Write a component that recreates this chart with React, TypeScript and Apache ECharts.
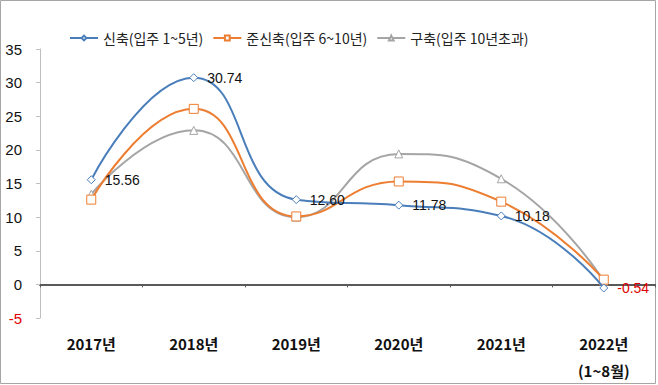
import React, { useEffect, useRef } from "react";
import * as echarts from "echarts";

const years = ["2017년", "2018년", "2019년", "2020년", "2021년", "2022년\n(1~8월)"];
const newBuild = [15.56, 30.74, 12.6, 11.78, 10.18, -0.54];
const semiNew = [12.6, 26.1, 10.1, 15.3, 12.3, 0.7];
const oldBuild = [13.4, 22.9, 10.0, 19.4, 15.7, 0.5];
const seriesNames = ["신축(입주 1~5년)", "준신축(입주 6~10년)", "구축(입주 10년초과)"];
const yTicks = { min: -5, max: 35, interval: 5 };

const BLUE = "#4A7EBB";
const ORANGE = "#ED7D31";
const GRAY = "#A5A5A5";
const RED = "#E00000";

export default function App() {
  const ref = useRef<HTMLDivElement>(null);
  useEffect(() => {
    document.body.style.margin = "0";
    if (!ref.current) return;
    const chart = echarts.init(ref.current, undefined, { renderer: "svg" });
    const labelFont = "Liberation Sans, Arial, sans-serif";
    chart.setOption({
      animation: false,
      backgroundColor: "#ffffff",
      graphic: [
        {
          type: "rect",
          shape: { x: 0.5, y: 0.5, width: 655, height: 383 },
          style: { fill: "none", stroke: "#A6A6A6", lineWidth: 1 },
          silent: true,
        },
      ],
      legend: {
        left: 64,
        top: 26,
        itemWidth: 28,
        itemHeight: 6,
        itemGap: 9,
        textStyle: { fontSize: 14, color: "#222", fontFamily: "Noto Sans CJK KR" },
        data: seriesNames,
      },
      grid: { left: 40, right: 3, top: 49, bottom: 67 },
      xAxis: [
        {
          type: "category",
          data: years,
          boundaryGap: true,
          position: "bottom",
          axisLine: { show: false, onZero: false },
          axisTick: { show: false },
          axisLabel: {
            margin: 12,
            fontSize: 15,
            fontWeight: "bold",
            color: "#111",
            lineHeight: 27,
            fontFamily: "Noto Sans CJK KR",
          },
        },
        {
          type: "category",
          data: years,
          boundaryGap: true,
          position: "top",
          axisLine: { show: true, onZero: true, lineStyle: { color: "#595959", width: 2 } },
          axisTick: { show: true, inside: true, length: 3, lineStyle: { color: "#595959" } },
          axisLabel: { show: false },
        },
      ],
      yAxis: {
        type: "value",
        min: yTicks.min,
        max: yTicks.max,
        interval: yTicks.interval,
        splitLine: { show: false },
        axisLine: { show: true, lineStyle: { color: "#BFBFBF" } },
        axisTick: { show: true, length: 4, lineStyle: { color: "#BFBFBF" } },
        axisLabel: {
          margin: 18,
          fontSize: 15,
          fontFamily: labelFont,
          color: (v: any) => (Number(v) < 0 ? RED : "#111"),
        },
      },
      series: [
        {
          name: seriesNames[0],
          type: "line",
          smooth: 0.5,
          xAxisIndex: 0,
          z: 4,
          data: newBuild.map((v) => (v < 0 ? { value: v, label: { color: RED } } : v)),
          symbol: "diamond",
          symbolSize: 8,
          lineStyle: { color: BLUE, width: 2 },
          itemStyle: { color: "#ffffff", borderColor: BLUE, borderWidth: 1 },
          label: {
            show: true,
            position: "right",
            distance: 9,
            fontSize: 14,
            fontFamily: labelFont,
            color: "#111",
            formatter: (p: any) => Number(p.value).toFixed(2),
          },
        },
        {
          name: seriesNames[1],
          type: "line",
          smooth: 0.5,
          xAxisIndex: 0,
          z: 3,
          data: semiNew,
          symbol: "rect",
          symbolSize: 9,
          lineStyle: { color: ORANGE, width: 2 },
          itemStyle: { color: "#ffffff", borderColor: ORANGE, borderWidth: 1 },
        },
        {
          name: seriesNames[2],
          type: "line",
          smooth: 0.5,
          xAxisIndex: 0,
          z: 2,
          data: oldBuild,
          symbol: "triangle",
          symbolSize: 8,
          lineStyle: { color: GRAY, width: 2 },
          itemStyle: { color: "#ffffff", borderColor: GRAY, borderWidth: 1 },
        },
      ],
    });
    return () => chart.dispose();
  }, []);
  return (
    <div
      ref={ref}
      style={{ position: "absolute", left: 0, top: 0, width: 658, height: 385 }}
    />
  );
}
